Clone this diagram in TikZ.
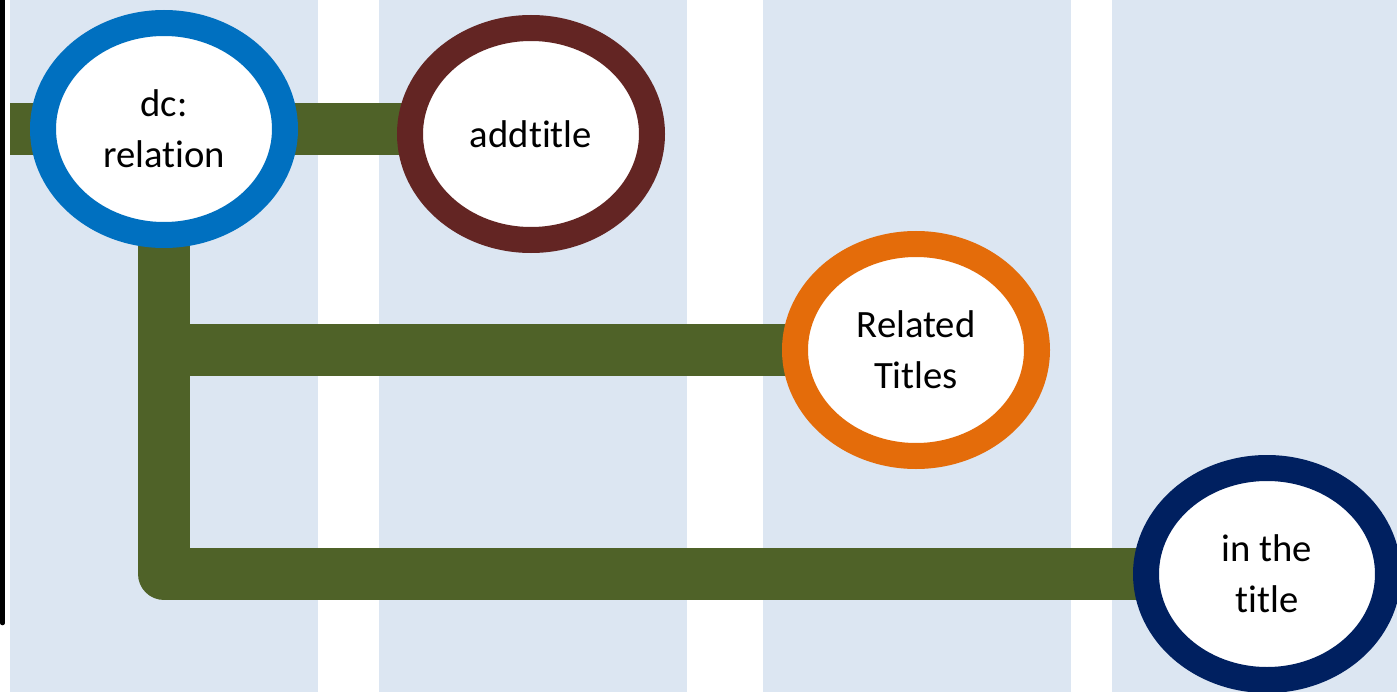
\documentclass[tikz,border=0pt]{standalone}
\usepackage{fontspec}
\setmainfont{Carlito}[RawFeature={-liga}]
\usetikzlibrary{shapes.geometric}
\definecolor{stripe}{HTML}{DCE6F2}
\definecolor{trackgreen}{HTML}{4F6228}
\definecolor{ringblue}{HTML}{0070C0}
\definecolor{ringred}{HTML}{632523}
\definecolor{ringorange}{HTML}{E46C0A}
\definecolor{ringnavy}{HTML}{002060}
\pgfdeclarelayer{background}
\pgfsetlayers{background,main}
\begin{document}
\begin{tikzpicture}[x=0.75pt,y=-0.75pt,
  station/.style={ellipse, draw, fill=white, line width=19.5pt,
    minimum width=181.5pt, minimum height=159pt, inner sep=0pt,
    align=center, font=\fontsize{29}{38.3}\selectfont, text=black},
  track/.style={draw=trackgreen, line width=39pt, line join=round},
  band/.style={fill=stripe, draw=none}]
\clip (0,0) rectangle (1397,692);
\begin{pgfonlayer}{background}
  \fill[white] (0,0) rectangle (1397,692);
  \path[band] (10,0) rectangle (318,692);
  \path[band] (379,0) rectangle (687,692);
  \path[band] (763,0) rectangle (1071,692);
  \path[band] (1112,0) rectangle (1397,692);
\end{pgfonlayer}
\draw[black, line width=3.5pt, line cap=round] (2.5,-5) -- (2.5,623);
\node[station, draw=ringblue] (dc) at (164,129) {dc:\\relation};
\node[station, draw=ringred] (add) at (531,134) {addtitle};
\node[station, draw=ringorange] (rel) at (916,350) {Related\\Titles};
\node[station, draw=ringnavy] (tit) at (1267,574) {in the\\title};
\coordinate (start) at (10,129);
\begin{pgfonlayer}{background}
  \draw[track] (start) -- (dc.center);
  \draw[track] (dc.center) -- (dc.center -| add.center);
  \draw[track] (dc.center) |- (rel.center);
  \draw[track] (dc.center) |- (tit.center);
\end{pgfonlayer}
\end{tikzpicture}
\end{document}
